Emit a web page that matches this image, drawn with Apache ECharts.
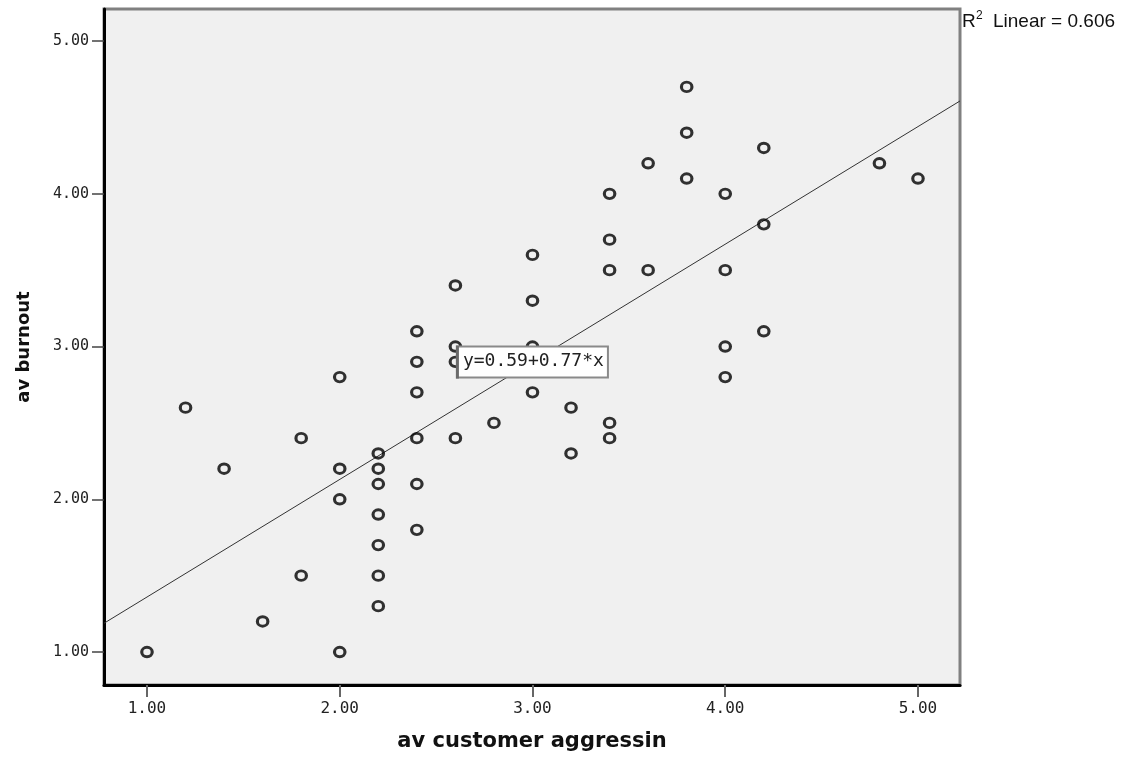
<!DOCTYPE html>
<html><head><meta charset="utf-8">
<script src="https://cdn.jsdelivr.net/npm/echarts@6/dist/echarts.min.js"></script>
<style>html,body{margin:0;padding:0;background:#fff}#c{width:1121px;height:757px}</style>
</head><body><div id="c"></div>
<script>
// ---- data ----
const xValues = [1.0, 1.2, 1.4, 1.6, 1.8, 1.8,
  2.0, 2.0, 2.0, 2.0,
  2.2, 2.2, 2.2, 2.2, 2.2, 2.2, 2.2,
  2.4, 2.4, 2.4, 2.4, 2.4, 2.4,
  2.6, 2.6, 2.6, 2.6,
  2.8,
  3.0, 3.0, 3.0, 3.0,
  3.2, 3.2,
  3.4, 3.4, 3.4, 3.4, 3.4,
  3.6, 3.6,
  3.8, 3.8, 3.8,
  4.0, 4.0, 4.0, 4.0,
  4.2, 4.2, 4.2,
  4.8, 5.0];
const yValues = [1.0, 2.6, 2.2, 1.2, 2.4, 1.5,
  2.8, 2.2, 2.0, 1.0,
  2.3, 2.2, 2.1, 1.9, 1.7, 1.5, 1.3,
  3.1, 2.9, 2.7, 2.4, 2.1, 1.8,
  3.4, 3.0, 2.9, 2.4,
  2.5,
  3.6, 3.3, 3.0, 2.7,
  2.6, 2.3,
  4.0, 3.7, 3.5, 2.5, 2.4,
  4.2, 3.5,
  4.7, 4.4, 4.1,
  4.0, 3.5, 3.0, 2.8,
  4.3, 3.8, 3.1,
  4.2, 4.1];
const xTicks = [1, 2, 3, 4, 5];
const yTicks = [1, 2, 3, 4, 5];
const xRange = [0.777, 5.218];
const yRange = [0.784, 5.21];
const fitIntercept = 0.59;
const fitSlope = 0.77;
const fitLabel = 'y=0.59+0.77*x';
const r2Value = '0.606';
const xTitle = 'av customer aggressin';
const yTitle = 'av burnout';
// anchor (data coords) of the equation label's top-left corner
const fitLabelAnchor = [2.608, 3.0];

const points = xValues.map((x, i) => [x, yValues[i]]);
const fitLine = [xRange[0], xRange[1]].map(x => [x, fitIntercept + fitSlope * x]);

const chart = echarts.init(document.getElementById('c'), null, {renderer: 'canvas'});
chart.setOption({
  animation: false,
  backgroundColor: '#ffffff',
  grid: {left: 104, right: 161, top: 9, bottom: 72, show: true,
    backgroundColor: '#f0f0f0', borderColor: '#808080', borderWidth: 3},
  xAxis: {
    type: 'value', min: xRange[0], max: xRange[1],
    name: xTitle, nameLocation: 'middle', nameGap: 46,
    nameTextStyle: {fontFamily: 'DejaVu Sans', fontWeight: 'bold', fontSize: 21, color: '#111'},
    splitLine: {show: false},
    axisLine: {show: true, onZero: false, lineStyle: {color: '#000', width: 3}},
    axisTick: {show: true, length: 12, customValues: xTicks, lineStyle: {color: '#666', width: 2}},
    axisLabel: {customValues: xTicks, margin: 16, formatter: v => v.toFixed(2),
      fontFamily: 'DejaVu Sans Mono', fontSize: 16, color: '#222'}
  },
  yAxis: {
    type: 'value', min: yRange[0], max: yRange[1],
    name: yTitle, nameLocation: 'middle', nameGap: 71,
    nameTextStyle: {fontFamily: 'DejaVu Sans', fontWeight: 'bold', fontSize: 18, color: '#111'},
    splitLine: {show: false},
    axisLine: {show: true, onZero: false, lineStyle: {color: '#000', width: 3}},
    axisTick: {show: true, length: 12, customValues: yTicks, lineStyle: {color: '#444', width: 1.5}},
    axisLabel: {customValues: yTicks, margin: 15, formatter: v => v.toFixed(2),
      fontFamily: 'DejaVu Sans Mono', fontSize: 15, color: '#222'}
  },
  series: [
    {type: 'line', data: fitLine, symbol: 'none', silent: true, z: 2,
      lineStyle: {color: '#333', width: 1}},
    {type: 'scatter', data: points, symbol: 'circle', symbolSize: [10.5, 9.5], z: 3,
      itemStyle: {color: 'rgba(0,0,0,0)', borderColor: '#000', borderWidth: 3}}
  ]
});

const p = chart.convertToPixel({gridIndex: 0}, fitLabelAnchor);
chart.setOption({
  graphic: [
    {type: 'rect', x: p[0], y: p[1], z: 100, zlevel: 1,
      shape: {x: 0, y: 0, width: 151, height: 31},
      style: {fill: '#ffffff', stroke: '#8a8a8a', lineWidth: 2}},
    {type: 'rect', x: p[0], y: p[1], z: 101, zlevel: 1,
      shape: {x: -1, y: -1, width: 3, height: 33},
      style: {fill: '#6a6a6a'}},
    {type: 'text', x: p[0] + 6, y: p[1] + 6, z: 102, zlevel: 1,
      style: {text: fitLabel, font: '18px "DejaVu Sans Mono"', fill: '#222'}},
    {type: 'text', x: 962, y: 12, z: 100,
      style: {text: 'R', font: '19px "Liberation Sans"', fill: '#111'}},
    {type: 'text', x: 976, y: 10, z: 100,
      style: {text: '2', font: '12px "Liberation Sans"', fill: '#111'}},
    {type: 'text', x: 993, y: 12, z: 100,
      style: {text: 'Linear = ' + r2Value, font: '19px "Liberation Sans"', fill: '#111'}}
  ]
});
</script></body></html>
